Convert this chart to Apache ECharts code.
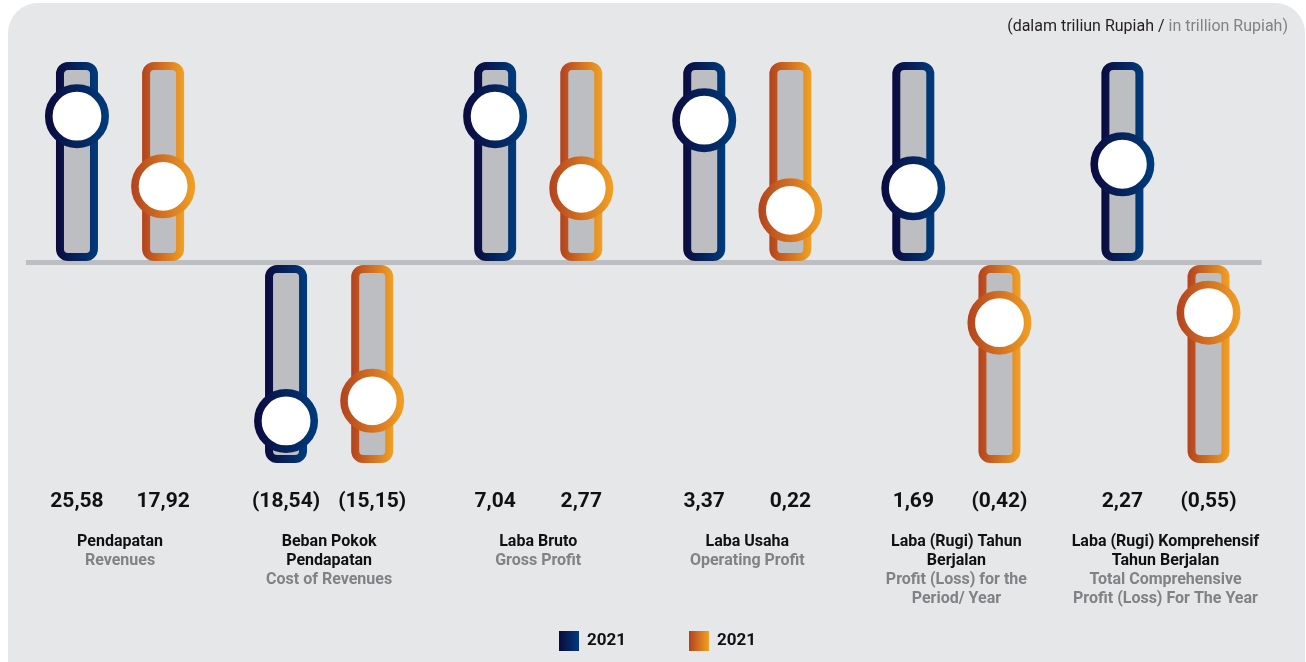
<!DOCTYPE html>
<html>
<head>
<meta charset="utf-8">
<script src="https://cdn.jsdelivr.net/npm/echarts@6/dist/echarts.min.js"></script>
<style>
  html, body { margin: 0; padding: 0; background: #ffffff; }
  #chart { width: 1306px; height: 662px; }
</style>
</head>
<body>
<div id="chart"></div>
<script>
// Category names: Indonesian line, then English line
const categoriesId = [
  'Pendapatan',
  'Beban Pokok\nPendapatan',
  'Laba Bruto',
  'Laba Usaha',
  'Laba (Rugi) Tahun\nBerjalan',
  'Laba (Rugi) Komprehensif\nTahun Berjalan'
];
const categoriesEn = [
  'Revenues',
  'Cost of Revenues',
  'Gross Profit',
  'Operating Profit',
  'Profit (Loss) for the\nPeriod/ Year',
  'Total Comprehensive\nProfit (Loss) For The Year'
];

// Reported values (trillion Rupiah)
const valuesNavy = [25.58, -18.54, 7.04, 3.37, 1.69, 2.27];
const valuesAmber = [17.92, -15.15, 2.77, 0.22, -0.42, -0.55];

// Slider knob level on each track (track runs 0..±100)
const knobNavy = [73, -79, 73, 71, 37, 49];
const knobAmber = [38, -69, 37, 26, -30, -25];

const legendLabels = { navy: '2021', amber: '2021' };
const unitIdText = '(dalam triliun Rupiah / ';
const unitEnText = 'in trillion Rupiah)';

const TRACK_MAX = 100;

const navyGrad = () => new echarts.graphic.LinearGradient(0, 0, 1, 0, [
  { offset: 0, color: '#0b0a3d' }, { offset: 1, color: '#003c7c' }
]);
const amberGrad = () => new echarts.graphic.LinearGradient(0, 0, 1, 0, [
  { offset: 0, color: '#b3421e' }, { offset: 1, color: '#f1a124' }
]);

function fmt(v) {
  const s = Math.abs(v).toFixed(2).replace('.', ',');
  return v < 0 ? '(' + s + ')' : s;
}

function makeRender(side, gradFn) {
  return function (params, api) {
    const idx = api.value(0);
    const value = api.value(1);
    const knob = api.value(2);
    const center = api.coord([idx, 0]);
    const band = api.size([1, 0])[0];
    const x = center[0] + side * band * 0.206;
    const zeroY = center[1];
    const dir = value < 0 ? -1 : 1;
    const endY = api.coord([idx, dir * TRACK_MAX])[1];
    const lw = 8;
    const w = 34;
    let top, bottom;
    if (dir > 0) { top = endY + lw / 2; bottom = zeroY - 1.5 - lw / 2; }
    else { top = zeroY + 2.5 + lw / 2; bottom = endY - lw / 2; }
    const knobY = api.coord([idx, knob])[1];
    const labelY = api.coord([idx, -TRACK_MAX])[1] + 39;
    return {
      type: 'group',
      children: [
        {
          type: 'rect',
          shape: { x: x - w / 2, y: top, width: w, height: bottom - top, r: 8 },
          style: { fill: '#bdbec2', stroke: gradFn(), lineWidth: lw }
        },
        {
          type: 'circle',
          shape: { cx: x, cy: knobY, r: 28.2 },
          style: { fill: '#ffffff', stroke: gradFn(), lineWidth: 7.6 }
        },
        {
          type: 'text',
          x: x, y: labelY,
          style: {
            text: fmt(value), align: 'center', verticalAlign: 'middle',
            fontFamily: 'Roboto', fontWeight: 'bold', fontSize: 21, fill: '#111111'
          }
        }
      ]
    };
  };
}

const chart = echarts.init(document.getElementById('chart'), null, { renderer: 'canvas' });

const option = {
  animation: false,
  backgroundColor: '#ffffff',
  graphic: [
    {
      type: 'rect', z: -10, silent: true,
      shape: { x: 8, y: 3, width: 1297, height: 720, r: 30 },
      style: { fill: '#e6e7e9' }
    }
  ],
  title: {
    right: 13, top: 14,
    text: '{a|' + unitIdText + '}{b|' + unitEnText + '}',
    textStyle: {
      fontWeight: 'normal',
      rich: {
        a: { fontFamily: 'Roboto', fontWeight: 'normal', fontSize: 16, color: '#231f20' },
        b: { fontFamily: 'Roboto', fontWeight: 'normal', fontSize: 16, color: '#808285' }
      }
    }
  },
  legend: {
    left: 554, top: 626,
    itemWidth: 20, itemHeight: 20, itemGap: 63,
    icon: 'rect',
    formatter: name => legendLabels[name],
    textStyle: {
      fontFamily: 'Roboto', fontWeight: 'bold', fontSize: 17, color: '#111111',
      padding: [0, 0, 0, 3]
    },
    data: [
      { name: 'navy', itemStyle: { color: navyGrad() } },
      { name: 'amber', itemStyle: { color: amberGrad() } }
    ]
  },
  grid: { left: 15.5, right: 36, top: 62, bottom: 199, containLabel: false },
  xAxis: {
    type: 'category',
    data: categoriesId.slice(),
    axisLine: { show: false, onZero: false },
    axisTick: { show: false },
    axisLabel: {
      margin: 69,
      interval: 0,
      formatter: (v, i) => '{a|' + categoriesId[i] + '}\n{b|' + categoriesEn[i] + '}',
      rich: {
        a: { fontFamily: 'Roboto', fontWeight: 'bold', fontSize: 16, lineHeight: 19, color: '#111111', align: 'center' },
        b: { fontFamily: 'Roboto', fontWeight: 'bold', fontSize: 16, lineHeight: 19, color: '#808285', align: 'center' }
      }
    }
  },
  yAxis: {
    type: 'value', min: -TRACK_MAX, max: TRACK_MAX, interval: 100,
    show: false
  },
  series: [
    {
      name: 'baseline',
      type: 'custom',
      z: 1,
      silent: true,
      data: [[0, 0]],
      renderItem: function (params, api) {
        const p0 = api.coord([0, 0]);
        const p5 = api.coord([categoriesId.length - 1, 0]);
        const band = api.size([1, 0])[0];
        return {
          type: 'rect',
          shape: { x: p0[0] - band * 0.45, y: p0[1] - 2.5, width: (p5[0] - p0[0]) + band * 0.45 + band * 0.46, height: 5 },
          style: { fill: '#bdbec2' }
        };
      }
    },
    {
      name: 'navy',
      type: 'custom',
      z: 3,
      itemStyle: { color: '#0b2a66' },
      data: valuesNavy.map((v, i) => [i, v, knobNavy[i]]),
      renderItem: makeRender(-1, navyGrad)
    },
    {
      name: 'amber',
      type: 'custom',
      z: 3,
      itemStyle: { color: '#d8742a' },
      data: valuesAmber.map((v, i) => [i, v, knobAmber[i]]),
      renderItem: makeRender(1, amberGrad)
    }
  ]
};

chart.setOption(option);
</script>
</body>
</html>
